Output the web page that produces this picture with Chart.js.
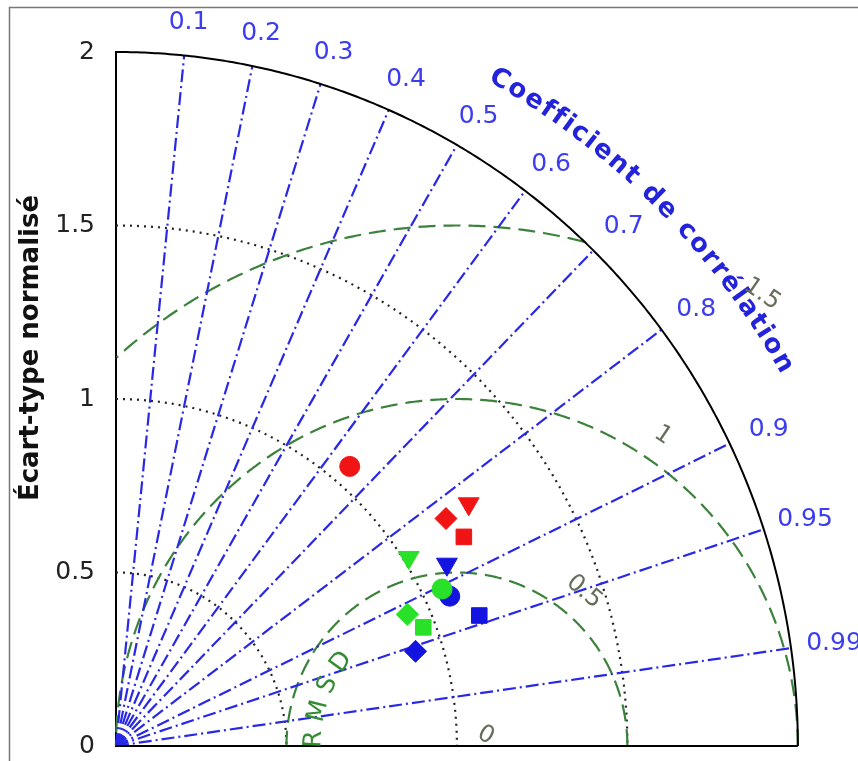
<!DOCTYPE html>
<html>
<head>
<meta charset="utf-8">
<script src="https://cdn.jsdelivr.net/npm/chart.js@4.4.1/dist/chart.umd.min.js"></script>
<style>
  html, body { margin: 0; padding: 0; background: #fff; }
  #wrap { width: 858px; height: 761px; }
</style>
</head>
<body>
<div id="wrap"><canvas id="taylor" width="858" height="761"></canvas></div>
<script>
// correlation rays (and their labels)
const corrTicks = [0.1, 0.2, 0.3, 0.4, 0.5, 0.6, 0.7, 0.8, 0.9, 0.95, 0.99];
// normalised standard deviation ticks and dotted arcs
const stdTicks = [0, 0.5, 1, 1.5, 2];
const stdArcs = [0.5, 1, 1.5];
const stdMax = 2;
// RMSD contours around the reference point (std 1, corr 1)
const rmsdLevels = [0.5, 1, 1.5];

// models: normalised std dev + correlation
const redShapes = ['circle', 'triangle', 'rectRot', 'rect'];
const redStd = [1.058, 1.248, 1.169, 1.185];
const redCorr = [0.648, 0.829, 0.828, 0.861];

const greenShapes = ['triangle', 'circle', 'rectRot', 'rect'];
const greenStd = [1.016, 1.058, 0.935, 0.964];
const greenCorr = [0.845, 0.904, 0.914, 0.935];

const blueShapes = ['triangle', 'circle', 'rect', 'rectRot'];
const blueStd = [1.103, 1.070, 1.130, 0.920];
const blueCorr = [0.880, 0.915, 0.943, 0.955];

Chart.defaults.font.family = 'DejaVu Sans';

function toXY(std, corr) {
  return std.map((s, i) => ({ x: s * corr[i], y: s * Math.sqrt(1 - corr[i] * corr[i]) }));
}

function makeSet(label, std, corr, shapes, color) {
  return {
    label: label,
    data: toXY(std, corr),
    pointStyle: shapes,
    pointRotation: shapes.map(s => s === 'triangle' ? 180 : 0),
    pointRadius: shapes.map(s => s === 'circle' ? 10 : (s === 'triangle' ? 12 : 11)),
    backgroundColor: color,
    borderColor: color,
    borderWidth: 1
  };
}

// grid of the Taylor diagram, drawn through the chart scales
const taylorGrid = {
  id: 'taylorGrid',
  beforeDraw(chart) {
    const ctx = chart.ctx;
    ctx.save();
    ctx.fillStyle = '#fff';
    ctx.fillRect(0, 0, chart.width, chart.height);
    ctx.strokeStyle = '#777';
    ctx.lineWidth = 1.5;
    ctx.strokeRect(9.5, 7.5, chart.width + 20, chart.height + 20);
    ctx.restore();
  },
  beforeDatasetsDraw(chart) {
    const { ctx, scales: { x, y } } = chart;
    const P = (a, b) => [x.getPixelForValue(a), y.getPixelForValue(b)];
    const line = (pts) => {
      ctx.beginPath();
      pts.forEach((p, i) => {
        const q = P(p[0], p[1]);
        if (i === 0) ctx.moveTo(q[0], q[1]); else ctx.lineTo(q[0], q[1]);
      });
      ctx.stroke();
    };
    ctx.save();

    // dotted std dev arcs
    ctx.strokeStyle = '#222';
    ctx.lineWidth = 2.2;
    ctx.setLineDash([2, 5]);
    stdArcs.forEach(r => {
      const pts = [];
      for (let k = 0; k <= 200; k++) {
        const t = Math.PI / 2 * k / 200;
        pts.push([r * Math.sin(t), r * Math.cos(t)]);
      }
      line(pts);
    });

    // dashed RMSD arcs
    ctx.strokeStyle = 'rgb(60,130,60)';
    ctx.lineWidth = 2.2;
    ctx.setLineDash([17, 8]);
    rmsdLevels.forEach(r => {
      let seg = [];
      for (let k = 0; k <= 600; k++) {
        const f = Math.PI * k / 600;
        const px = 1 + r * Math.cos(f), py = r * Math.sin(f);
        if (px >= 0 && px * px + py * py <= stdMax * stdMax + 1e-9) {
          seg.push([px, py]);
        } else if (seg.length) { line(seg); seg = []; }
      }
      if (seg.length) line(seg);
    });

    // dash-dot correlation rays
    ctx.strokeStyle = 'rgb(40,40,230)';
    ctx.lineWidth = 2.2;
    ctx.setLineDash([13, 4, 2, 4]);
    corrTicks.forEach(c => {
      const s = Math.sqrt(1 - c * c);
      line([[0, 0], [stdMax * c, stdMax * s]]);
    });

    // outer arc and x axis
    ctx.setLineDash([]);
    ctx.strokeStyle = '#000';
    ctx.lineWidth = 2;
    const outer = [];
    for (let k = 0; k <= 300; k++) {
      const t = Math.PI / 2 * k / 300;
      outer.push([stdMax * Math.cos(t), stdMax * Math.sin(t)]);
    }
    line(outer);
    line([[0, 0], [stdMax, 0]]);
    ctx.restore();
  },
  afterDraw(chart) {
    const { ctx, scales: { x, y } } = chart;
    const P = (a, b) => [x.getPixelForValue(a), y.getPixelForValue(b)];
    const unit = x.getPixelForValue(1) - x.getPixelForValue(0);
    ctx.save();

    // correlation labels
    ctx.font = '25px "DejaVu Sans"';
    ctx.fillStyle = 'rgb(60,60,240)';
    ctx.textAlign = 'center';
    ctx.textBaseline = 'middle';
    corrTicks.forEach(c => {
      const r = 2.095;
      const q = P(r * c, r * Math.sqrt(1 - c * c));
      ctx.fillText(String(c), q[0] + 11 * c, q[1]);
    });

    // text along a circle, letters upright w.r.t. the tangent
    function arcText(text, cx, cy, R, a0, a1, font, color) {
      ctx.font = font;
      ctx.fillStyle = color;
      ctx.textAlign = 'center';
      ctx.textBaseline = 'alphabetic';
      const chars = [...text];
      const widths = chars.map(ch => ctx.measureText(ch).width);
      const total = widths.reduce((s, w) => s + w, 0);
      const gap = ((a0 - a1) * R - total) / (chars.length - 1);
      let a = a0;
      chars.forEach((ch, i) => {
        const mid = a - (widths[i] / 2) / R;
        ctx.save();
        ctx.translate(cx + R * Math.cos(mid), cy - R * Math.sin(mid));
        ctx.rotate(Math.PI / 2 - mid);
        ctx.fillText(ch, 0, 0);
        ctx.restore();
        a -= (widths[i] + gap) / R;
      });
    }
    const o = P(0, 0);
    const deg = Math.PI / 180;
    arcText('Coefficient de corrélation', o[0], o[1], 2.235 * unit, 60.8 * deg, 29.2 * deg,
      'bold 26px "DejaVu Sans"', 'rgb(35,35,220)');

    // RMSD caption and level labels
    const ref = P(1, 0);
    arcText('RMSD', ref[0], ref[1], 0.40 * unit, 181 * deg, 140 * deg,
      '25px "DejaVu Sans"', 'rgb(50,140,50)');
    ctx.font = '24px "DejaVu Sans"';
    ctx.fillStyle = 'rgb(100,110,90)';
    ctx.textAlign = 'center';
    ctx.textBaseline = 'middle';
    const labelAngles = [50, 56, 55.5];
    rmsdLevels.forEach((r, i) => {
      const f = labelAngles[i] * deg, rr = r + 0.08;
      const q = P(1 + rr * Math.cos(f), rr * Math.sin(f));
      ctx.save();
      ctx.translate(q[0], q[1]);
      ctx.rotate(Math.PI / 2 - f);
      ctx.fillText(String(r), 0, 0);
      ctx.restore();
    });
    const z = P(1 + 0.09 * Math.cos(20 * deg), 0.09 * Math.sin(20 * deg));
    ctx.save();
    ctx.translate(z[0], z[1]);
    ctx.rotate(0.5);
    ctx.fillText('0', 0, 0);
    ctx.restore();

    // y axis title
    ctx.font = 'bold 26px "DejaVu Sans"';
    ctx.fillStyle = '#111';
    ctx.textAlign = 'center';
    ctx.textBaseline = 'alphabetic';
    ctx.save();
    ctx.translate(38, (y.top + y.bottom) / 2 - 51);
    ctx.rotate(-Math.PI / 2);
    ctx.fillText('Écart-type normalisé', 0, 0);
    ctx.restore();

    ctx.restore();
  }
};

new Chart(document.getElementById('taylor'), {
  type: 'scatter',
  data: {
    datasets: [
      makeSet('rouge', redStd, redCorr, redShapes, 'rgb(240,20,20)'),
      makeSet('vert', greenStd, greenCorr, greenShapes, 'rgb(40,225,40)'),
      makeSet('bleu', blueStd, blueCorr, blueShapes, 'rgb(20,20,225)')
    ]
  },
  options: {
    responsive: false,
    animation: false,
    devicePixelRatio: 1,
    layout: { padding: { top: 52, right: 0, bottom: 15, left: 0 } },
    plugins: { legend: { display: false }, tooltip: { enabled: false } },
    scales: {
      x: {
        type: 'linear',
        display: false,
        min: 0,
        max: 742 / 347
      },
      y: {
        type: 'linear',
        min: stdTicks[0],
        max: stdTicks[stdTicks.length - 1],
        afterFit(scale) {
          scale.width = 116;
          scale.paddingTop = 0;
          scale.paddingBottom = 0;
        },
        afterBuildTicks(scale) { scale.ticks = stdTicks.map(v => ({ value: v })); },
        grid: { display: false },
        border: { display: true, color: '#000', width: 2 },
        ticks: {
          padding: 13,
          color: '#222',
          font: { size: 25 },
          callback: v => String(v)
        }
      }
    }
  },
  plugins: [taylorGrid]
});
</script>
</body>
</html>
